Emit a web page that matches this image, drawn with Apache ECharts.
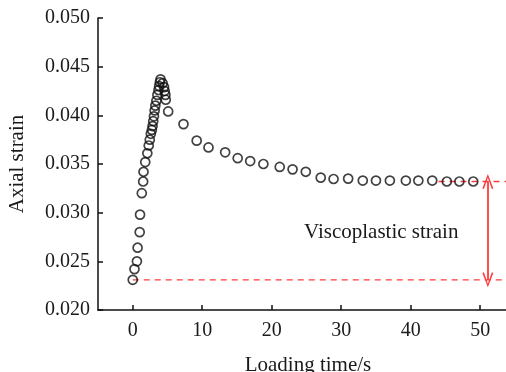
<!DOCTYPE html>
<html><head><meta charset="utf-8">
<script src="https://cdn.jsdelivr.net/npm/echarts@6/dist/echarts.min.js"></script>
<style>html,body{margin:0;padding:0;background:#fff}#c{width:506px;height:372px}</style>
</head><body><div id="c"></div>
<script>
const timeValues = [0,0.25,0.6,0.7,1.0,1.05,1.3,1.5,1.55,1.8,2.1,2.3,2.45,2.6,2.75,2.85,2.95,3.05,3.15,3.25,3.4,3.55,3.7,3.8,3.9,4.0,4.3,4.5,4.6,4.7,4.75,5.1,7.3,9.2,10.9,13.3,15.1,16.9,18.8,21.15,23.0,24.9,27.05,28.9,31.0,33.1,35.0,37.0,39.3,41.1,43.1,45.2,47.0,49.0];
const strainValues = [0.0231,0.0242,0.0250,0.0264,0.0280,0.0298,0.0320,0.0332,0.0342,0.0352,0.0361,0.0369,0.0375,0.0381,0.0385,0.0389,0.0394,0.0399,0.0405,0.0410,0.0415,0.0421,0.0426,0.0430,0.0434,0.0437,0.0433,0.0429,0.0425,0.0421,0.0416,0.0404,0.0391,0.0374,0.0367,0.0362,0.0356,0.0353,0.0350,0.0347,0.03445,0.0342,0.0336,0.03346,0.0335,0.0333,0.0333,0.0333,0.0333,0.0333,0.0333,0.0332,0.0332,0.0332];
const xTicks = [0,10,20,30,40,50];
const yTicks = [0.020,0.025,0.030,0.035,0.040,0.045,0.050];
const elasticLevel = 0.0231;
const finalLevel = 0.0332;
const upperLineStart = 44;
const arrowTime = 51.1;
const annotationText = 'Viscoplastic strain';

const font = '"Liberation Serif","Times New Roman",serif';
const red = '#ff3b3b';
const chart = echarts.init(document.getElementById('c'));
const pts = timeValues.map((t,i)=>[t,strainValues[i]]);
const chevron = 'path://M5,0 L10,14 L8.6,14.6 L5,3.6 L1.4,14.6 L0,14 Z';
chart.setOption({
  animation:false,
  grid:{left:98,top:18,width:410,height:292,outerBoundsMode:'none',containLabel:false},
  xAxis:{type:'value',min:-5,max:54,
    name:'Loading time/s',nameLocation:'middle',nameGap:45,
    nameTextStyle:{fontFamily:font,fontSize:21,color:'#1a1a1a',padding:[0,0,0,10]},
    axisLine:{onZero:false,lineStyle:{color:'#111',width:1.5}},
    axisTick:{inside:true,length:5,customValues:xTicks,lineStyle:{color:'#111',width:1.5}},
    axisLabel:{customValues:xTicks,fontFamily:font,fontSize:20,color:'#1a1a1a',margin:11},
    splitLine:{show:false}},
  yAxis:{type:'value',min:0.02,max:0.05,
    name:'Axial strain',nameLocation:'middle',nameGap:70,
    nameTextStyle:{fontFamily:font,fontSize:21,color:'#1a1a1a'},
    axisLine:{show:true,onZero:false,lineStyle:{color:'#111',width:1.5}},
    axisTick:{show:true,inside:true,length:5,customValues:yTicks,lineStyle:{color:'#111',width:1.5}},
    axisLabel:{customValues:yTicks,formatter:v=>v.toFixed(3),fontFamily:font,fontSize:20,color:'#1a1a1a',margin:8},
    splitLine:{show:false}},
  series:[
    {type:'line',data:[[0,elasticLevel],[54,elasticLevel]],symbol:'none',
     lineStyle:{color:red,width:1.3,type:[6,5]},z:1},
    {type:'line',data:[[upperLineStart,finalLevel],[54,finalLevel]],symbol:'none',
     lineStyle:{color:red,width:1.3,type:[6,5]},z:1},
    {type:'scatter',data:pts,symbol:'circle',symbolSize:9,
     itemStyle:{color:'rgba(255,255,255,0)',borderColor:'#111',borderWidth:1.7},z:3},
    {type:'line',data:[],markLine:{silent:true,symbol:[chevron,chevron],symbolSize:[11,15],
      label:{show:false},lineStyle:{color:red,width:1.8,type:'solid'},
      data:[[{coord:[arrowTime,finalLevel]},{coord:[arrowTime,elasticLevel]}]]}}
  ],
  graphic:[{type:'text',left:304,top:222,style:{text:annotationText,font:'21px '+font,fill:'#1a1a1a'}}]
});
</script></body></html>
